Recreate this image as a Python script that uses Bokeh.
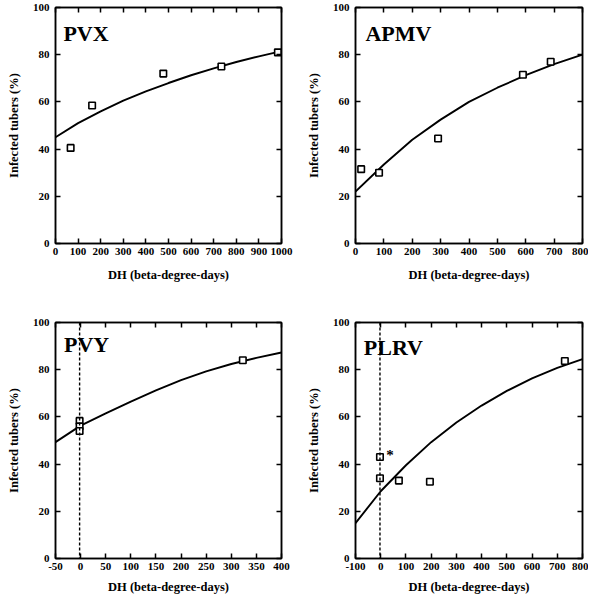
from bokeh.plotting import figure
from bokeh.models import Range1d, FixedTicker, LinearAxis, Label, Span
from bokeh.layouts import column, row
from bokeh.embed import file_html
from bokeh.resources import INLINE

# ---- data ----
y_ticks = [0, 20, 40, 60, 80, 100]

pvx_dh = [67, 162, 477, 734, 984]
pvx_inf = [40.5, 58.5, 72, 75, 81]
pvx_curve_dh = [0, 100, 200, 300, 400, 500, 600, 700, 800, 900, 1000]
pvx_curve_inf = [45, 51, 56, 60.5, 64.5, 68, 71.3, 74.2, 76.9, 79.3, 81.5]
pvx_xticks = [0, 100, 200, 300, 400, 500, 600, 700, 800, 900, 1000]

apmv_dh = [20, 83, 291, 590, 688]
apmv_inf = [31.5, 30, 44.5, 71.5, 77]
apmv_curve_dh = [0, 100, 200, 300, 400, 500, 600, 700, 800]
apmv_curve_inf = [22, 33.5, 44, 52.5, 60, 66, 71.3, 76, 80]
apmv_xticks = [0, 100, 200, 300, 400, 500, 600, 700, 800]

pvy_dh = [-2, -2, -2, 323]
pvy_inf = [58.3, 56, 54, 84]
pvy_curve_dh = [-50, 0, 50, 100, 150, 200, 250, 300, 350, 400]
pvy_curve_inf = [49.3, 56.3, 61.5, 66.5, 71.2, 75.6, 79.3, 82.4, 85, 87.3]
pvy_xticks = [-50, 0, 50, 100, 150, 200, 250, 300, 350, 400]
pvy_ref = -2

plrv_dh = [-3, -3, 72, 195, 730]
plrv_inf = [43, 34, 33, 32.5, 83.7]
plrv_curve_dh = [-100, 0, 100, 200, 300, 400, 500, 600, 700, 800]
plrv_curve_inf = [15, 28.5, 39.5, 49.3, 57.6, 64.8, 71, 76.3, 80.8, 84.5]
plrv_xticks = [-100, 0, 100, 200, 300, 400, 500, 600, 700, 800]
plrv_ref = -3

FONT = "Liberation Serif"


def make_panel(name, dh, inf, cdh, cinf, xticks, width, height,
               b_left, b_right, b_top, b_bottom, label_xy, xlab_standoff,
               ref=None, star=None):
    p = figure(width=width, height=height, output_backend="svg",
               toolbar_location=None,
               x_range=Range1d(xticks[0], xticks[-1]),
               y_range=Range1d(0, 100),
               min_border_left=b_left, min_border_right=b_right,
               min_border_top=b_top, min_border_bottom=b_bottom)
    p.xgrid.visible = False
    p.ygrid.visible = False
    p.outline_line_color = "black"
    p.outline_line_width = 1.5
    p.background_fill_color = "white"
    p.border_fill_color = "white"

    p.xaxis.ticker = FixedTicker(ticks=xticks)
    p.xaxis.major_label_overrides = {t: str(t) for t in xticks if t < 0}
    p.yaxis.ticker = FixedTicker(ticks=y_ticks)
    for ax in (p.xaxis[0], p.yaxis[0]):
        ax.axis_line_width = 1.5
        ax.major_tick_in = 5
        ax.major_tick_out = 0
        ax.major_tick_line_width = 1.5
        ax.minor_tick_line_color = None
        ax.major_label_text_font = FONT
        ax.major_label_text_font_style = "bold"
        ax.major_label_text_font_size = "11px"
        ax.major_label_text_color = "black"
        ax.axis_label_text_font = FONT
        ax.axis_label_text_font_style = "bold"
        ax.axis_label_text_font_size = "12.5px"
        ax.axis_label_text_color = "black"
    p.xaxis.axis_label = "DH (beta-degree-days)"
    p.yaxis.axis_label = "Infected tubers (%)"
    p.xaxis.major_label_standoff = 4
    p.xaxis.axis_label_standoff = xlab_standoff
    p.yaxis.major_label_standoff = 6
    p.yaxis.axis_label_standoff = 9

    # mirrored inward ticks on top and right (no labels)
    for loc, tk in (("above", xticks), ("right", y_ticks)):
        ax = LinearAxis(ticker=FixedTicker(ticks=tk))
        ax.axis_line_width = 1.5
        ax.major_tick_in = 5
        ax.major_tick_out = 0
        ax.major_tick_line_width = 1.5
        ax.minor_tick_line_color = None
        ax.major_label_text_color = None
        ax.major_label_text_font_size = "1px"
        ax.major_label_standoff = 0
        ax.axis_label_standoff = 0
        p.add_layout(ax, loc)

    if ref is not None:
        p.add_layout(Span(location=ref, dimension="height", line_color="black",
                          line_width=1.4, line_dash="3 2"))

    p.line(cdh, cinf, line_color="black", line_width=1.9)
    p.scatter(dh, inf, marker="square", size=6.5, fill_color="white",
              line_color="black", line_width=1.6)

    p.add_layout(Label(x=label_xy[0], y=label_xy[1], text=name,
                       text_font=FONT, text_font_style="bold",
                       text_font_size="22px", text_color="black",
                       text_baseline="bottom"))
    if star is not None:
        p.add_layout(Label(x=star[0], y=star[1], text="*",
                           text_font=FONT, text_font_style="bold",
                           text_font_size="15px", text_color="black",
                           text_baseline="middle"))
    return p


p1 = make_panel("PVX", pvx_dh, pvx_inf, pvx_curve_dh, pvx_curve_inf, pvx_xticks,
                298, 300, 55, 17, 7, 57, (35, 83.5), 10)
p2 = make_panel("APMV", apmv_dh, apmv_inf, apmv_curve_dh, apmv_curve_inf, apmv_xticks,
                290, 300, 57, 6, 7, 57, (35, 83.5), 10)
p3 = make_panel("PVY", pvy_dh, pvy_inf, pvy_curve_dh, pvy_curve_inf, pvy_xticks,
                298, 296, 55, 17, 22, 38, (-33, 85.3), 7, ref=pvy_ref)
p4 = make_panel("PLRV", plrv_dh, plrv_inf, plrv_curve_dh, plrv_curve_inf, plrv_xticks,
                290, 296, 57, 6, 22, 38, (-67, 84.3), 7, ref=plrv_ref, star=(22, 44))

layout = column(row(p1, p2), row(p3, p4))
open("out.html", "w").write(file_html(layout, INLINE))
